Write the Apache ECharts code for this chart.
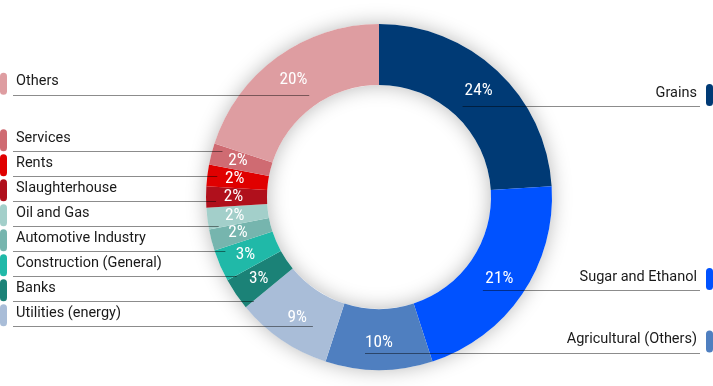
<!DOCTYPE html>
<html><head><meta charset="utf-8">
<script src="https://cdn.jsdelivr.net/npm/echarts@6/dist/echarts.min.js"></script>
<style>html,body{margin:0;padding:0;background:#fff}#c{width:713px;height:386px}</style>
</head><body><div id="c"></div>
<script>
const categories = ['Grains','Sugar and Ethanol','Agricultural (Others)','Utilities (energy)','Banks','Construction (General)','Automotive Industry','Oil and Gas','Slaughterhouse','Rents','Services','Others'];
const shares = [24,21,10,9,3,3,2,2,2,2,2,20];
const colors = ['#003a75','#0052ff','#4f7fc0','#a9bdd8','#1b8277','#20b9a8','#76b5ae','#a3cfca','#b0101c','#e00000','#cf6b72','#de9da1'];

const W = 713, H = 386;
const CX = 379, CY = 197, R0 = 112, R1 = 173, RMID = (R0 + R1) / 2;
const FONT = 'Roboto, "Noto Sans", sans-serif';
const STEP = 25;

// pick a condensed face for the percentage labels if one is installed
const ctx = document.createElement('canvas').getContext('2d');
function has(f) {
  ctx.font = '18px monospace'; const a = ctx.measureText('20% Wgi').width;
  ctx.font = '18px "' + f + '", monospace'; const b = ctx.measureText('20% Wgi').width;
  return Math.abs(a - b) > 0.5;
}
let PCT_FONT = FONT, PCT_SIZE = 16;
for (const f of ['Roboto Condensed', 'Liberation Sans Narrow', 'DejaVu Sans Condensed', 'Open Sans Condensed']) {
  if (has(f)) {
    PCT_FONT = '"' + f + '", ' + FONT;
    ctx.font = '18px "' + f + '"';
    const w = ctx.measureText('20%').width;
    PCT_SIZE = Math.max(14, Math.min(19, 18 * 28 / w));
    break;
  }
}

const total = shares.reduce((a, b) => a + b, 0);
const rich = {
  nameL: { fontFamily: FONT, fontSize: 14.5, color: '#1a1a1a', lineHeight: 18, padding: [0, 0, 4, 9] },
  nameR: { fontFamily: FONT, fontSize: 14.5, color: '#1a1a1a', lineHeight: 18, padding: [0, 9, 4, 0] }
};
colors.forEach((c, i) => { rich['b' + i] = { backgroundColor: c, width: 7, height: 22, borderRadius: 3.5 }; });

// natural label heights (mid-angle on mid radius) and side, derived from the data
let cum = 0;
const info = shares.map((v, i) => {
  const f = (cum + v / 2) / total;
  cum += v;
  return { i, right: f <= 0.5, ny: CY - RMID * Math.cos(f * 2 * Math.PI) };
});
// balanced spreading of overlapping labels on each side
const textY = new Array(shares.length);
[true, false].forEach(side => {
  const items = info.filter(d => d.right === side).sort((a, b) => a.ny - b.ny);
  let clusters = items.map(d => ({ members: [d], sum: d.ny }));
  const start = c => c.sum / c.members.length - (c.members.length - 1) * STEP / 2 - 3;
  let merged = true;
  while (merged) {
    merged = false;
    for (let k = 0; k < clusters.length - 1; k++) {
      const a = clusters[k], b = clusters[k + 1];
      if (start(a) + a.members.length * STEP > start(b)) {
        clusters.splice(k, 2, { members: a.members.concat(b.members), sum: a.sum + b.sum });
        merged = true; break;
      }
    }
  }
  clusters.forEach(c => {
    const s = c.members.length > 1 ? start(c) : c.members[0].ny;
    c.members.forEach((d, k) => { textY[d.i] = s + k * STEP; });
  });
});

const labelData = categories.map((name, i) => ({
  name, value: shares[i],
  label: { formatter: info[i].right ? '{nameR|' + name + '}{b' + i + '|}' : '{b' + i + '|}{nameL|' + name + '}' }
}));
const mainData = categories.map((name, i) => ({ name, value: shares[i], itemStyle: { color: colors[i] } }));

const chart = echarts.init(document.getElementById('c'), null, { renderer: 'canvas' });
chart.setOption({
  animation: false,
  backgroundColor: '#fff',
  series: [
    {
      type: 'pie', radius: [R0, R1], center: [CX, CY], silent: true, z: 1,
      data: [{ value: 1 }],
      itemStyle: { color: '#fff', shadowBlur: 20, shadowColor: 'rgba(0,0,0,0.28)' },
      label: { show: false }, labelLine: { show: false }
    },
    {
      type: 'pie', radius: [R0, R1], center: [CX, CY], silent: true, z: 2,
      startAngle: 90, clockwise: true,
      data: mainData,
      label: {
        position: 'inside', color: '#fff', fontFamily: PCT_FONT, fontSize: PCT_SIZE,
        formatter: p => Math.round(p.percent) + '%'
      },
      labelLine: { show: false }
    },
    {
      type: 'pie', radius: [0, RMID], center: [CX, CY], silent: true, z: 3,
      startAngle: 90, clockwise: true,
      data: labelData,
      itemStyle: { color: 'rgba(0,0,0,0)' },
      label: { position: 'outside', alignTo: 'edge', edgeDistance: 0, minMargin: 3, distanceToLabelLine: 0, rich },
      labelLine: { show: true, length: 0, length2: 0, smooth: false, lineStyle: { color: 'rgba(0,0,0,0.45)', width: 1 } },
      labelLayout: function (p) {
        const r = p.labelRect;
        const isLeft = !info[p.dataIndex].right;
        const pts = p.labelLinePoints;
        const anchorY = textY[p.dataIndex] + 2;
        const y = Math.round(anchorY + r.height / 2) + 0.5;
        const v = shares[p.dataIndex];
        let endX;
        if (v >= 5) {
          endX = pts[0][0] + (isLeft ? 14 : -14);
        } else {
          const dy = y - CY;
          endX = CX + (isLeft ? -1 : 1) * Math.sqrt(Math.max(0, 163 * 163 - dy * dy));
        }
        const startX = isLeft ? r.x + 13 : r.x + r.width - 13;
        return { y: anchorY, labelLinePoints: [[endX, y], [endX, y], [startX, y]] };
      }
    }
  ]
});
</script></body></html>
